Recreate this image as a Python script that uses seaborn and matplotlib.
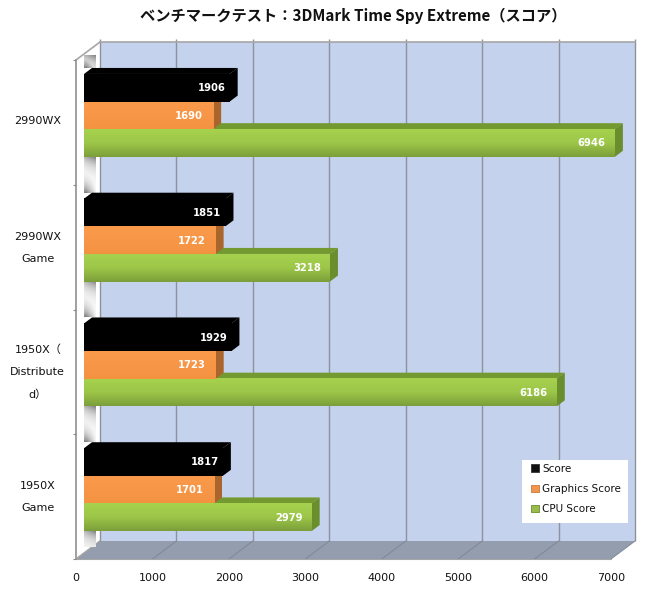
import numpy as np
import pandas as pd
import matplotlib
matplotlib.use("Agg")
import matplotlib.pyplot as plt
import seaborn as sns
from matplotlib.colors import LinearSegmentedColormap
from matplotlib.patches import Patch, Polygon, Rectangle
from matplotlib.transforms import ScaledTranslation

# Benchmark results
cpu_labels = ["2990WX", "2990WX\nGame", "1950X（\nDistribute\nd）", "1950X\nGame"]
series_names = ["Score", "Graphics Score", "CPU Score"]
score = [1906, 1851, 1929, 1817]
graphics_score = [1690, 1722, 1723, 1701]
cpu_score = [6946, 3218, 6186, 2979]
x_ticks = [0, 1000, 2000, 3000, 4000, 5000, 6000, 7000]
title_text = "ベンチマークテスト：3DMark Time Spy Extreme（スコア）"

W, H = 660, 600
X0, X1 = 76, 611      # front plane, value axis
Y0, Y1 = 60, 559      # front plane, category axis
BACK_DX, BACK_DY = 24, 18
BAR_DX, BAR_DY = 8, 7

sns.set_theme(style="white")
plt.rcParams["font.family"] = ["DejaVu Sans", "Noto Sans CJK JP"]

df = pd.DataFrame({
    "cpu": cpu_labels * 3,
    "series": np.repeat(series_names, 4),
    "value": score + graphics_score + cpu_score,
})

fig = plt.figure(figsize=(W / 100, H / 100), dpi=100, facecolor="white")


def frac_rect(left, top, right, bottom):
    return [left / W, 1 - bottom / H, (right - left) / W, (bottom - top) / H]


# Room behind the bars, in pixel coordinates
bg = fig.add_axes([0, 0, 1, 1], zorder=0)
bg.set_xlim(0, W)
bg.set_ylim(H, 0)
bg.set_axis_off()

bx0, bx1 = X0 + BACK_DX, X1 + BACK_DX
by0, by1 = Y0 - BACK_DY, Y1 - BACK_DY
grid_c = "#8d929c"
bg.add_patch(Rectangle((bx0, by0), bx1 - bx0, by1 - by0, fc="#c4d2ed", ec="none"))
bg.add_patch(Polygon([(X0, Y1), (bx0, by1), (bx1, by1), (X1, Y1)], fc="#939dae", ec="none"))
bg.add_patch(Polygon([(X0, Y0), (bx0, by0), (bx0, by1), (X0, Y1)], fc="white", ec="none"))
step = (X1 - X0) / 7
for i in range(8):
    gx = bx0 + i * step
    bg.plot([gx, gx], [by0 - 3, by1], color=grid_c, lw=1.0, solid_capstyle="butt")
    bg.plot([X0 + i * step, gx], [Y1, by1], color="#7f8797", lw=0.7)
bg.plot([bx0, bx1], [by0, by0], color="#a6a6a6", lw=1.2)
bg.plot([X0, bx0], [Y0, by0], color="#a6a6a6", lw=1.2)
bg.plot([X0, bx0], [Y1, by1], color="#a6a6a6", lw=1.0)
bg.plot([X0, X1], [Y1, Y1], color="#a6a6a6", lw=0.8)
bg.plot([X0, X0], [Y0, Y1], color="#a0a0a0", lw=1.4)

# Front plane carries the axis labels and ticks
front = fig.add_axes(frac_rect(X0, Y0, X1, Y1), zorder=1)
front.patch.set_alpha(0)
for s in front.spines.values():
    s.set_visible(False)
front.set_xlim(0, 7000)
front.set_ylim(3.5, -0.5)
front.set_xticks(x_ticks)
front.set_xticklabels([str(t) for t in x_ticks], fontsize=8.0, color="#111111")
front.set_yticks(range(4))
front.set_yticklabels(cpu_labels, fontsize=8.0, color="#111111", linespacing=2.5,
                      ha="center", multialignment="center")
front.set_yticks(np.arange(-0.5, 4.0, 1), minor=True)
front.tick_params(axis="x", length=0, pad=9.8)
front.tick_params(axis="y", which="major", length=0, pad=27.5)
front.tick_params(axis="y", which="minor", left=True, length=2.5, color="#8a8a8a", width=0.8)
# Multi-line labels sit high in their bands
for lbl, lift in zip(front.get_yticklabels(), [2, 6.5, 7, 6.5]):
    lbl.set_transform(lbl.get_transform() + ScaledTranslation(0, lift / 100, fig.dpi_scale_trans))

# Bars sit a little way back from the front plane
ax = fig.add_axes(frac_rect(X0 + BAR_DX, Y0 - BAR_DY, X1 + BAR_DX, Y1 - BAR_DY), zorder=2)
ax.patch.set_alpha(0)
sns.barplot(data=df, y="cpu", x="value", hue="series", orient="h",
            order=cpu_labels, hue_order=series_names,
            palette=["#000000", "#f89645", "#9bc34a"],
            width=0.664, gap=0, legend=False, linewidth=0, ax=ax)
ax.set_xlim(0, 7000)
ax.set_ylim(3.5, -0.5)
ax.set_axis_off()

dx = BAR_DX * 7000 / (X1 - X0)
dy = 6 * 4 / (Y1 - Y0)

styles = {
    "Score": dict(front=["#000000", "#000000"], top="#000000", side="#000000",
                  z=30, pad=4),
    "Graphics Score": dict(front=["#fa9a4b", "#f39342"], top="#c77b37", side="#a9652c",
                           z=20, pad=10),
    "CPU Score": dict(front=["#a6d24f", "#9cc648", "#7c9f3a"], top="#739a30",
                      side="#6a8e2c", z=10, pad=9),
}
for name, cont in zip(series_names, ax.containers):
    st = styles[name]
    cmap = LinearSegmentedColormap.from_list(name, st["front"])
    grad = np.linspace(0, 1, 64).reshape(-1, 1)
    for rect in cont:
        a, b = rect.get_x(), rect.get_x() + rect.get_width()
        t, u = rect.get_y(), rect.get_y() + rect.get_height()
        z = st["z"]
        rect.set_zorder(z)
        ax.add_patch(Polygon([(a, t), (a + dx, t - dy), (b + dx, t - dy), (b, t)],
                             fc=st["top"], ec="none", zorder=z, clip_on=False))
        ax.add_patch(Polygon([(b, t), (b + dx, t - dy), (b + dx, u - dy), (b, u)],
                             fc=st["side"], ec="none", zorder=z, clip_on=False))
        ax.imshow(grad, aspect="auto", cmap=cmap, extent=(a, b, u, t),
                  zorder=z + 0.5, interpolation="bilinear", clip_on=False)
        ax.annotate(f"{int(rect.get_width())}", xy=(b, (t + u) / 2), xytext=(-st["pad"] * 0.72, -0.3),
                    textcoords="offset points", ha="right", va="center", color="white",
                    fontsize=7.2, fontweight="bold", zorder=z + 1)

# Soft shadows on the side wall in the gaps between the bars
shade = LinearSegmentedColormap.from_list("shade", ["#ffffff", "#808080"])
tops = sorted({r.get_y() for c in ax.containers[:1] for r in c})
bottoms = sorted({r.get_y() + r.get_height() for c in ax.containers[2:] for r in c})
px_y = lambda v: Y0 - BAR_DY + (v + 0.5) * (Y1 - Y0) / 4
edges = [(Y0 - 5, px_y(tops[0]) - 6)]
for k in range(3):
    edges.append((px_y(bottoms[k]), px_y(tops[k + 1]) - 6))
edges.append((px_y(bottoms[3]), Y1 - 12))
n_gaps = len(edges)
for i, (e0, e1) in enumerate(edges):
    span = e1 - e0
    uu, vv = np.meshgrid(np.linspace(0, 1, 24), np.linspace(0, span, 64))
    from_top = np.exp(-vv / 9.0) * (0.55 + 0.45 * uu)
    from_bottom = np.exp(-(span - vv) / 9.0) * np.clip(1.2 - 1.1 * uu, 0, 1)
    strip = np.maximum(from_top, from_bottom if i < n_gaps - 1 else 0)
    bg.imshow(strip, aspect="auto", cmap=shade, extent=(84, 96, e1, e0), zorder=3,
              interpolation="bilinear", vmin=0, vmax=1)
bg.set_xlim(0, W)
bg.set_ylim(H, 0)
ax.set_xlim(0, 7000)
ax.set_ylim(3.5, -0.5)

# Legend panel
fig.add_artist(Rectangle((522 / W, 1 - 523 / H), 106 / W, 63 / H, fc="white", ec="none",
                         transform=fig.transFigure, zorder=4))
handles = [Patch(fc="#111111", ec="#333333", lw=0.6),
           Patch(fc="#f0964f", ec="#c77b37", lw=0.6),
           Patch(fc="#9bbb4f", ec="#6a8e2c", lw=0.6)]
leg = fig.legend(handles, series_names, fontsize=7.5,
                 loc="upper left", bbox_to_anchor=(531 / W, 1 - 463.5 / H),
                 frameon=False, handlelength=0.72, handleheight=0.72, handletextpad=0.35,
                 labelspacing=1.0, borderpad=0, borderaxespad=0)
leg.set_zorder(5)
for t in leg.get_texts():
    t.set_color("#111111")

fig.text(353.5 / W, 1 - 16 / H, title_text, ha="center", va="center", fontsize=11.0,
         fontweight="bold", color="#111111", family=["Noto Sans CJK JP", "DejaVu Sans"])

fig.savefig("out.png", dpi=100, facecolor="white")
